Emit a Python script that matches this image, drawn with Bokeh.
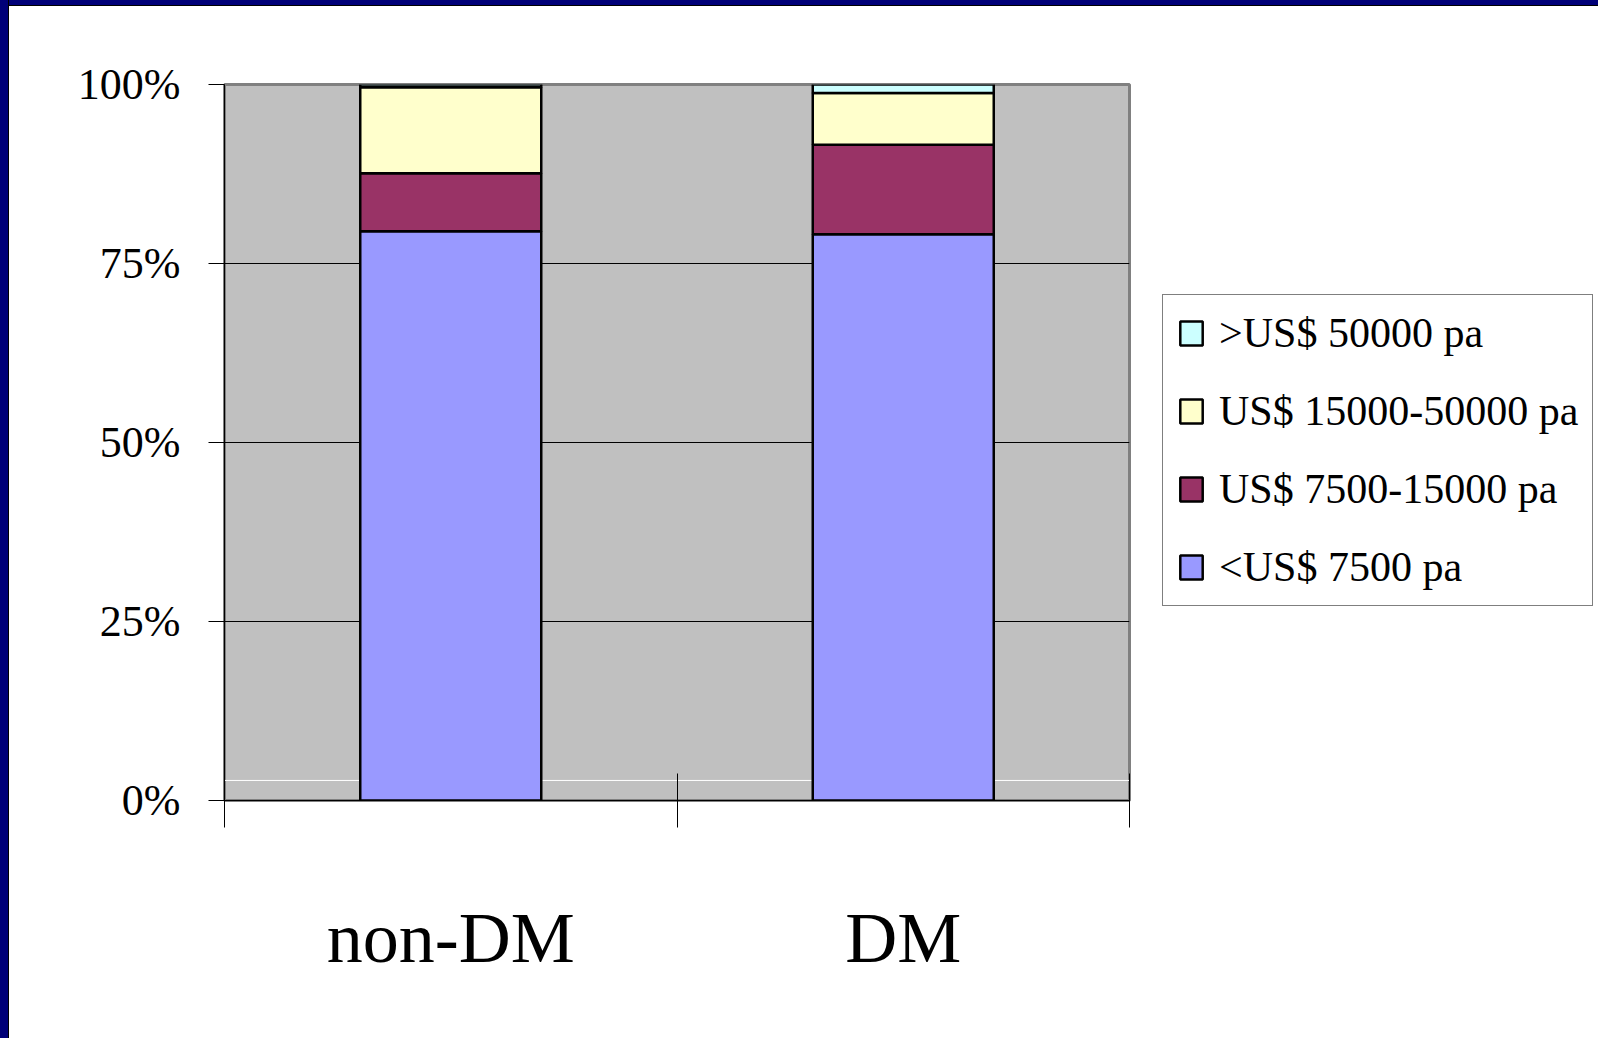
from bokeh.plotting import figure
from bokeh.models import (Legend, LegendItem, LinearAxis, FixedTicker,
                          NumeralTickFormatter, Range1d, Span, Div, ColumnDataSource)
from bokeh.layouts import row, column
from bokeh.embed import file_html
from bokeh.resources import INLINE

# Income distribution (share of households) by diabetes status
groups = ["non-DM", "DM"]
bands = ["<US$ 7500 pa", "US$ 7500-15000 pa", "US$ 15000-50000 pa", ">US$ 50000 pa"]
under_7500 = [0.795, 0.791]
from_7500_to_15000 = [0.081, 0.125]
from_15000_to_50000 = [0.120, 0.072]
over_50000 = [0.004, 0.012]
band_colors = ["#9999FF", "#993366", "#FFFFCC", "#CCFFFF"]
percent_ticks = [0, 0.25, 0.5, 0.75, 1.0]

SERIF = "Liberation Serif"
NAVY = "#000078"

# each group occupies one unit slot; bars sit in the middle of their slot
slot_centers = [i + 0.5 for i in range(len(groups))]
slot_edges = list(range(len(groups) + 1))

source = ColumnDataSource(data={
    "x": slot_centers,
    bands[0]: under_7500,
    bands[1]: from_7500_to_15000,
    bands[2]: from_15000_to_50000,
    bands[3]: over_50000,
})

p = figure(
    x_range=Range1d(0, len(groups)), y_range=Range1d(0, 1),
    frame_width=905, frame_height=716,
    output_backend="svg", toolbar_location=None,
    min_border_left=215, min_border_right=0,
    min_border_top=78, min_border_bottom=238,
    background_fill_color="#C0C0C0", border_fill_color="white",
    outline_line_color="#808080", outline_line_width=3,
)

# light rule near the floor of the plot area
p.add_layout(Span(location=0.028, dimension="width", line_color="white",
                  line_width=1, level="underlay"))

renderers = p.vbar_stack(bands, x="x", width=0.4, source=source,
                         fill_color=band_colors, line_color="black", line_width=2.5)

# y axis: percentage scale
p.yaxis.ticker = FixedTicker(ticks=percent_ticks)
p.yaxis.formatter = NumeralTickFormatter(format="0%")
p.yaxis.major_tick_out = 16
p.yaxis.major_tick_in = 0
p.yaxis.minor_tick_line_color = None
p.yaxis.axis_line_color = "black"
p.yaxis.major_tick_line_color = "black"
p.yaxis.major_label_text_font = SERIF
p.yaxis.major_label_text_font_size = "44px"
p.yaxis.major_label_text_color = "black"
p.yaxis.major_label_standoff = 28

p.ygrid.grid_line_color = "black"
p.ygrid.grid_line_width = 1
p.xgrid.visible = False

# x axis next to the frame: boundary ticks between the groups, no labels
edge_axis = p.xaxis[0]
edge_axis.ticker = FixedTicker(ticks=slot_edges)
edge_axis.major_tick_out = 27
edge_axis.major_tick_in = 27
edge_axis.minor_tick_line_color = None
edge_axis.major_tick_line_color = "black"
edge_axis.axis_line_color = "black"
edge_axis.major_label_overrides = {e: "" for e in slot_edges}
edge_axis.major_label_text_font_size = "1px"
edge_axis.major_label_standoff = 0

# second x axis underneath: group names at slot centres
name_axis = LinearAxis(ticker=FixedTicker(ticks=slot_centers),
                       major_label_overrides=dict(zip(slot_centers, groups)),
                       major_tick_line_color=None, minor_tick_line_color=None,
                       axis_line_color=None,
                       major_label_text_font=SERIF, major_label_text_font_size="72px",
                       major_label_text_color="black", major_label_standoff=64)
p.add_layout(name_axis, "below")

# legend in the right-hand panel
legend = Legend(
    items=[LegendItem(label=bands[i], renderers=[renderers[i]]) for i in reversed(range(len(bands)))],
    location=(33, 194),
    label_text_font=SERIF, label_text_font_size="42px", label_text_color="black",
    glyph_width=28, glyph_height=30, label_height=48, label_standoff=14,
    spacing=30, padding=14, margin=0,
    border_line_color="black", border_line_width=1, background_fill_color="white",
)
p.add_layout(legend, "right")

left_band = Div(text="", width=9, height=1038, margin=0,
                styles={"background": f"linear-gradient(to right, {NAVY} 8px, #000000 8px)"})
top_band = Div(text="", width=1589, height=6, margin=0,
               styles={"background": f"linear-gradient(to bottom, {NAVY} 5px, #000000 5px)"})

layout = row(left_band, column(top_band, p, margin=0, spacing=0), margin=0, spacing=0)

open("out.html", "w").write(file_html(layout, INLINE))
